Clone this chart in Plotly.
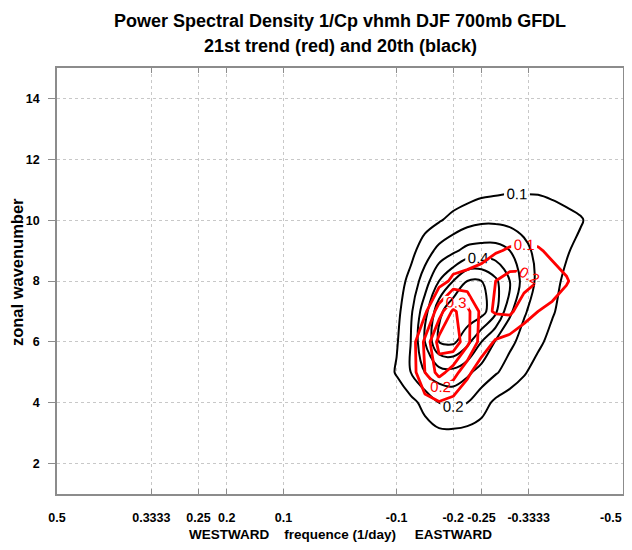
import plotly.graph_objects as go

# frequency (1/day), positive = westward, negative = eastward
FREQ = [-0.05, -0.075, -0.1, -0.125, -0.15, -0.175, -0.2, -0.225, -0.25,
        -0.275, -0.3, -0.325, -0.35, -0.375, -0.4, -0.425, -0.45, -0.475]
WAVENUM = [2, 3, 4, 5, 6, 7, 8, 9, 10, 11, 12]

# 20th century power spectral density (black)
PSD_20TH = [
    [0, 0, 0, 0.01, 0.02, 0.03, 0.03, 0.03, 0.02, 0.01, 0.01, 0, 0, 0, 0, 0, 0, 0],
    [0, 0.01, 0.02, 0.04, 0.06, 0.08, 0.08, 0.07, 0.06, 0.04, 0.03, 0.02, 0.01, 0, 0, 0, 0, 0],
    [0, 0.01, 0.03, 0.07, 0.13, 0.2, 0.22, 0.2, 0.14, 0.08, 0.05, 0.03, 0.01, 0.01, 0, 0, 0, 0],
    [0.01, 0.04, 0.11, 0.2, 0.3, 0.36, 0.37, 0.32, 0.26, 0.21, 0.16, 0.11, 0.06, 0.03, 0.01, 0, 0, 0],
    [0.01, 0.03, 0.09, 0.2, 0.4, 0.6, 0.62, 0.53, 0.4, 0.29, 0.22, 0.17, 0.12, 0.07, 0.04, 0.02, 0.01, 0],
    [0, 0.02, 0.07, 0.18, 0.36, 0.57, 0.68, 0.67, 0.64, 0.52, 0.32, 0.21, 0.16, 0.11, 0.06, 0.03, 0.01, 0],
    [0, 0.01, 0.05, 0.13, 0.25, 0.4, 0.5, 0.6, 0.6, 0.52, 0.4, 0.26, 0.18, 0.13, 0.08, 0.04, 0.02, 0],
    [0, 0, 0.02, 0.07, 0.15, 0.23, 0.28, 0.33, 0.34, 0.34, 0.3, 0.23, 0.17, 0.14, 0.11, 0.07, 0.03, 0.01],
    [0, 0, 0.01, 0.02, 0.06, 0.09, 0.13, 0.16, 0.18, 0.18, 0.17, 0.16, 0.15, 0.14, 0.13, 0.11, 0.06, 0.02],
    [0, 0, 0, 0, 0.01, 0.02, 0.03, 0.05, 0.07, 0.08, 0.09, 0.09, 0.09, 0.08, 0.06, 0.04, 0.02, 0.01],
    [0, 0, 0, 0, 0, 0, 0.01, 0.01, 0.02, 0.02, 0.03, 0.03, 0.03, 0.02, 0.02, 0.01, 0, 0],
]

# 21st century trend (red)
PSD_21ST = [
    [0] * 18,
    [0, 0, 0, 0, 0.01, 0.02, 0.02, 0.01, 0, 0, 0, 0, 0, 0, 0, 0, 0, 0],
    [0, 0, 0, 0.01, 0.06, 0.09, 0.06, 0.03, 0.01, 0, 0, 0, 0, 0, 0, 0, 0, 0],
    [0, 0, 0, 0.04, 0.2, 0.34, 0.25, 0.12, 0.05, 0.02, 0.01, 0, 0, 0, 0, 0, 0, 0],
    [0, 0, 0, 0.04, 0.22, 0.44, 0.47, 0.33, 0.15, 0.09, 0.06, 0.04, 0.02, 0.01, 0, 0, 0, 0],
    [0, 0, 0, 0.01, 0.08, 0.25, 0.42, 0.33, 0.17, 0.21, 0.22, 0.14, 0.1, 0.08, 0.04, 0.01, 0, 0],
    [0, 0, 0, 0, 0.02, 0.06, 0.12, 0.13, 0.14, 0.2, 0.24, 0.24, 0.2, 0.14, 0.11, 0.05, 0.01, 0],
    [0, 0, 0, 0, 0, 0.01, 0.03, 0.05, 0.07, 0.09, 0.11, 0.12, 0.11, 0.08, 0.05, 0.02, 0, 0],
    [0, 0, 0, 0, 0, 0, 0, 0.01, 0.02, 0.03, 0.03, 0.03, 0.03, 0.02, 0.01, 0, 0, 0],
    [0] * 18,
    [0] * 18,
]

X_TICKS = [0.5, 0.3333, 0.25, 0.2, 0.1, -0.1, -0.2, -0.25, -0.3333, -0.5]
X_TICKTEXT = ["0.5", "0.3333", "0.25", "0.2", "0.1", "-0.1", "-0.2", "-0.25", "-0.3333", "-0.5"]
Y_TICKS = [2, 4, 6, 8, 10, 12, 14]

FONT = "Liberation Sans, Arial, Helvetica, sans-serif"


def contour(z, color, width, start, end, labels, smoothing):
    return go.Contour(
        x=FREQ, y=WAVENUM, z=z,
        autocontour=False,
        contours=dict(
            coloring="none", start=start, end=end, size=0.1,
            showlabels=labels,
            labelfont=dict(family=FONT, size=15, color=color),
        ),
        line=dict(color=color, width=width, smoothing=smoothing),
        showscale=False, hoverinfo="skip",
    )


fig = go.Figure()
# 20th century, black
fig.add_trace(contour(PSD_20TH, "black", 2, 0.1, 0.2, True, 1))
fig.add_trace(contour(PSD_20TH, "black", 2, 0.3, 0.3, False, 1))
fig.add_trace(contour(PSD_20TH, "black", 2, 0.4, 0.4, True, 1))
fig.add_trace(contour(PSD_20TH, "black", 2, 0.5, 0.6, False, 1))
# 21st trend, red
fig.add_trace(contour(PSD_21ST, "red", 2.8, 0.1, 0.3, True, 0))
fig.add_trace(contour(PSD_21ST, "red", 2.8, 0.4, 0.4, False, 0))

axis_style = dict(
    showline=True, linecolor="#8c8c8c", linewidth=1.5, mirror="ticks",
    showgrid=True, gridcolor="#c8c8c8", gridwidth=1, griddash="dot",
    zeroline=False, tickcolor="#8c8c8c", automargin=False,
    tickfont=dict(family=FONT, size=12.5, color="black", weight="bold"),
)

# last label nudged left with trailing spaces so it stays inside the page
x_labels = X_TICKTEXT[:-1] + [X_TICKTEXT[-1] + "\u00a0" * 7]

fig.update_xaxes(
    range=[0.5, -0.5], tickmode="array", tickvals=X_TICKS, ticktext=x_labels,
    ticks="inside", ticklen=5, ticklabelstandoff=11, ticklabeloverflow="allow",
    **axis_style,
)
fig.update_yaxes(
    range=[1, 15], tickmode="array", tickvals=Y_TICKS,
    ticks="outside", ticklen=7, ticklabelstandoff=6, **axis_style,
)

# the page body adds an 8px margin, so the figure is 8px smaller each way
fig.update_layout(
    width=624, height=542,
    margin=dict(l=49, r=9, t=60, b=56),
    paper_bgcolor="white", plot_bgcolor="white",
    showlegend=False,
    font=dict(family=FONT, color="black"),
    annotations=[
        dict(text="<b>Power Spectral Density 1/Cp vhmh DJF 700mb GFDL</b>",
             xref="paper", yref="paper", x=0.5, y=1.11,
             xanchor="center", yanchor="middle", showarrow=False,
             font=dict(size=18)),
        dict(text="<b>21st trend (red) and 20th (black)</b>",
             xref="paper", yref="paper", x=0.5, y=1.051,
             xanchor="center", yanchor="middle", showarrow=False,
             font=dict(size=18)),
        dict(text="<b>WESTWARD" + "\u00a0" * 4 + "frequence (1/day)"
                  + "\u00a0" * 5 + "EASTWARD</b>",
             xref="paper", yref="paper", x=0.5, y=-0.096,
             xanchor="center", yanchor="middle", showarrow=False,
             font=dict(size=13.5)),
        dict(text="<b>zonal wavenumber</b>", textangle=-90,
             xref="paper", yref="paper", x=-0.0706, y=0.521,
             xanchor="center", yanchor="middle", showarrow=False,
             font=dict(size=16.5)),
    ],
)

fig.write_html("out.html")
